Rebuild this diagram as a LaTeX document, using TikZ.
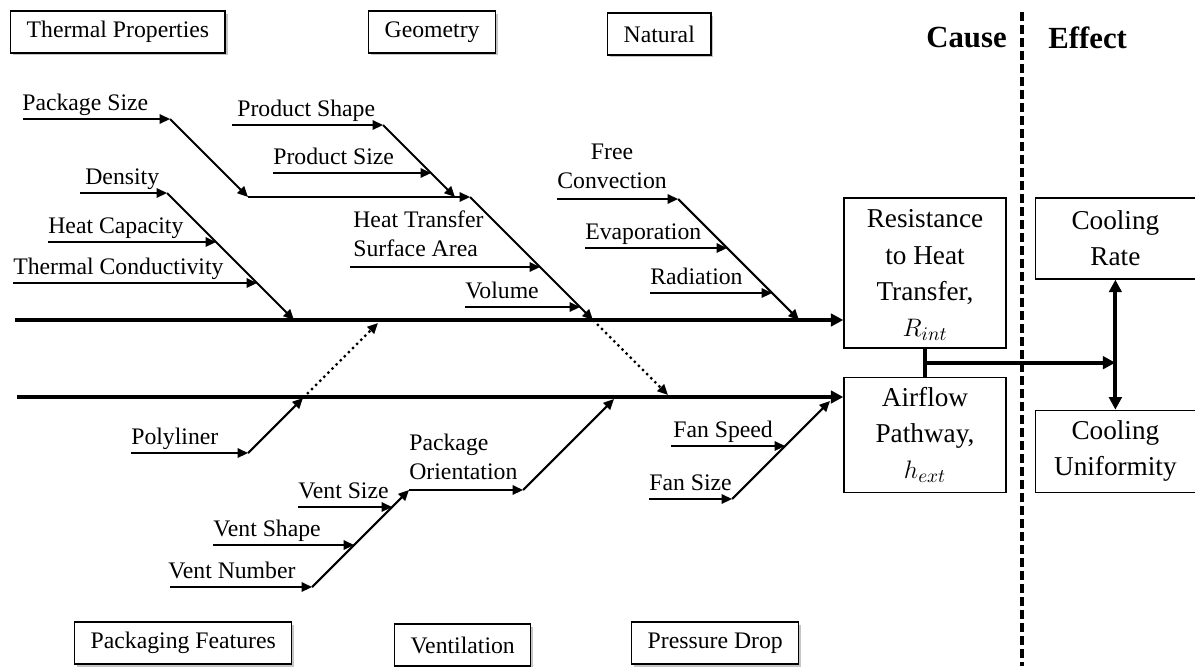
\documentclass[tikz,border=0pt]{standalone}
\usepackage{fontspec}
\setmainfont{Liberation Serif}
\usetikzlibrary{arrows.meta,positioning,shadows,calc}

\begin{document}
\begin{tikzpicture}[
    x=0.02cm, y=-0.02cm,
    font=\fontsize{13.5}{16.5}\selectfont,
    lbl/.style={anchor=base west, inner sep=0pt, yshift=0.18cm},
    lbl2/.style={anchor=south west, inner sep=0pt, yshift=0.2cm, align=left},
    cat/.style={rectangle, draw, line width=0.8pt, fill=white, inner xsep=0.32cm, minimum height=0.84cm, anchor=west,
        drop shadow={shadow xshift=0.05cm, shadow yshift=-0.05cm, fill=black!45}},
    box/.style={rectangle, draw, line width=0.8pt, minimum width=3.24cm, align=center, font=\fontsize{15.5}{20.5}\selectfont},
    head/.style={inner sep=0pt, font=\fontsize{17.5}{20}\selectfont\bfseries},
    bone/.style={draw, line width=1.2pt, -{Triangle[length=2.1mm, width=1.9mm]}},
    spine/.style={draw, line width=2.2pt, -{Triangle[length=2.5mm, width=2.5mm]}},
    link/.style={draw, line width=1.3pt, dotted, -{Triangle[length=2.1mm, width=1.9mm]}}
]
    \useasboundingbox (0,0) rectangle (1195,666);

    % cause / effect split
    \node [head, anchor=east] (cause) at (1007,38) {Cause};
    \node [head, anchor=west] (effect) at (1048,38) {Effect};
    \coordinate (dtop) at (1022,12);
    \coordinate (dbot) at (1022,666);
    \draw [line width=2pt, dash pattern=on 0.18cm off 0.08cm] (dtop) -- (dbot);

    % category boxes
    \node [cat] (thermal) at (10,32) {Thermal Properties};
    \node [cat] (geom) at (368,32) {Geometry};
    \node [cat] (natural) at (607,34) {Natural};
    \node [cat] (packf) at (74,643) {Packaging Features};
    \node [cat] (vent) at (394,645) {Ventilation};
    \node [cat] (pdrop) at (631,643) {Pressure Drop};

    % heads
    \node [box, minimum height=3.0cm, text depth=-0.12cm] (res) at (925,273) {Resistance\\to Heat\\Transfer,\\$R_{int}$};
    \node [box, minimum height=2.3cm, below=0.56cm of res] (air) {Airflow\\Pathway,\\$h_{ext}$};
    \node [box, minimum width=3.2cm, minimum height=1.62cm, right=0.56cm of res.north east, anchor=north west] (rate) {Cooling\\Rate};
    \node [box, minimum width=3.2cm, minimum height=1.64cm, below=2.6cm of rate] (unif) {Cooling\\Uniformity};

    % spines
    \coordinate (up0) at (15,320);
    \coordinate (lo0) at (17,397);
    \path [spine] (up0) -- (up0 -| res.west);
    \path [spine] (lo0) -- (lo0 -| air.west);

    \coordinate (mid) at ($(res.south)!0.5!(air.north)$);
    \draw [line width=2.2pt] (res.south) -- (air.north);
    \path [spine] (mid) -- (mid -| rate.south);
    \draw [line width=2.2pt, {Triangle[length=2.5mm, width=2.5mm]}-{Triangle[length=2.5mm, width=2.5mm]}] (rate.south) -- (unif.north);

    % thermal properties
    \coordinate (dens0) at (80,193);
    \coordinate (tp1) at (167,193);
    \coordinate (tp2) at (294,320);
    \coordinate (heat0) at (48,242);
    \coordinate (heat1) at (216,242);
    \coordinate (cond0) at (13,283);
    \coordinate (cond1) at (257,283);
    \path [bone] (dens0) -- (tp1);
    \path [bone] (tp1) -- (tp2);
    \path [bone] (heat0) -- (heat1);
    \path [bone] (cond0) -- (cond1);
    \node [lbl] (dens) at (85,193) {Density};
    \node [lbl] (heat) at (heat0) {Heat Capacity};
    \node [lbl] (cond) at (cond0) {Thermal Conductivity};

    % geometry
    \coordinate (geo1) at (470,197);
    \coordinate (geo2) at (593,320);
    \coordinate (htsa0) at (350,267);
    \coordinate (htsa1) at (540,267);
    \coordinate (vol0) at (465,307);
    \coordinate (vol1) at (580,307);
    \coordinate (pks0) at (23,119);
    \coordinate (pks1) at (170,119);
    \coordinate (pks2) at (248,197);
    \coordinate (prd1) at (383,125);
    \coordinate (prd2) at (455,197);
    \coordinate (shp0) at (232,125);
    \coordinate (siz0) at (273,173);
    \coordinate (siz1) at (431,173);
    \path [bone] (geo1) -- (geo2);
    \path [bone] (htsa0) -- (htsa1);
    \path [bone] (vol0) -- (vol1);
    \path [bone] (pks0) -- (pks1);
    \path [bone] (pks1) -- (pks2);
    \path [bone] (pks2) -- (geo1);
    \path [bone] (prd1) -- (prd2);
    \path [bone] (shp0) -- (prd1);
    \path [bone] (siz0) -- (siz1);
    \node [lbl] (pks) at (22,119) {Package Size};
    \node [lbl] (shp) at (237,125) {Product Shape};
    \node [lbl] (siz) at (siz0) {Product Size};
    \node [lbl2] (htsa) at (353,267) {Heat Transfer\\Surface Area};
    \node [lbl] (vol) at (vol0) {Volume};

    % natural
    \coordinate (nat1) at (678,199);
    \coordinate (nat2) at (799,320);
    \coordinate (conv0) at (557,199);
    \coordinate (evap0) at (585,248);
    \coordinate (evap1) at (727,248);
    \coordinate (rad0) at (650,293);
    \coordinate (rad1) at (772,293);
    \path [bone] (conv0) -- (nat1);
    \path [bone] (nat1) -- (nat2);
    \path [bone] (evap0) -- (evap1);
    \path [bone] (rad0) -- (rad1);
    \node [lbl2, align=center] (conv) at (conv0) {Free\\Convection};
    \node [lbl] (evap) at (evap0) {Evaporation};
    \node [lbl] (rad) at (rad0) {Radiation};

    % packaging features
    \coordinate (poly0) at (131,453);
    \coordinate (pf1) at (248,453);
    \coordinate (pf2) at (303,398);
    \coordinate (pf3) at (378,323);
    \path [bone] (poly0) -- (pf1);
    \path [bone] (pf1) -- (pf2);
    \path [link] (pf2) -- (pf3);
    \node [lbl] (poly) at (poly0) {Polyliner};

    % ventilation
    \coordinate (vnum0) at (170,587);
    \coordinate (ven1) at (312,587);
    \coordinate (ven2) at (409,490);
    \coordinate (vshp0) at (213,545);
    \coordinate (vshp1) at (354,545);
    \coordinate (vsiz0) at (298,507);
    \coordinate (vsiz1) at (392,507);
    \coordinate (ori1) at (523,490);
    \coordinate (ori2) at (614,399);
    \path [bone] (vnum0) -- (ven1);
    \path [bone] (ven1) -- (ven2);
    \path [bone] (vshp0) -- (vshp1);
    \path [bone] (vsiz0) -- (vsiz1);
    \path [bone] (ven2) -- (ori1);
    \path [bone] (ori1) -- (ori2);
    \node [lbl] (vnum) at (168,587) {Vent Number};
    \node [lbl] (vshp) at (vshp0) {Vent Shape};
    \node [lbl] (vsiz) at (vsiz0) {Vent Size};
    \node [lbl2] (ori) at (ven2) {Package\\Orientation};

    % pressure drop
    \coordinate (fsiz0) at (649,499);
    \coordinate (fan1) at (732,499);
    \coordinate (fan2) at (830,401);
    \coordinate (fspd0) at (671,446);
    \coordinate (fspd1) at (785,446);
    \coordinate (geo3) at (668,395);
    \path [bone] (fsiz0) -- (fan1);
    \path [bone] (fan1) -- (fan2);
    \path [bone] (fspd0) -- (fspd1);
    \path [link] (geo2) -- (geo3);
    \node [lbl] (fsiz) at (fsiz0) {Fan Size};
    \node [lbl] (fspd) at (673,446) {Fan Speed};
\end{tikzpicture}
\end{document}
